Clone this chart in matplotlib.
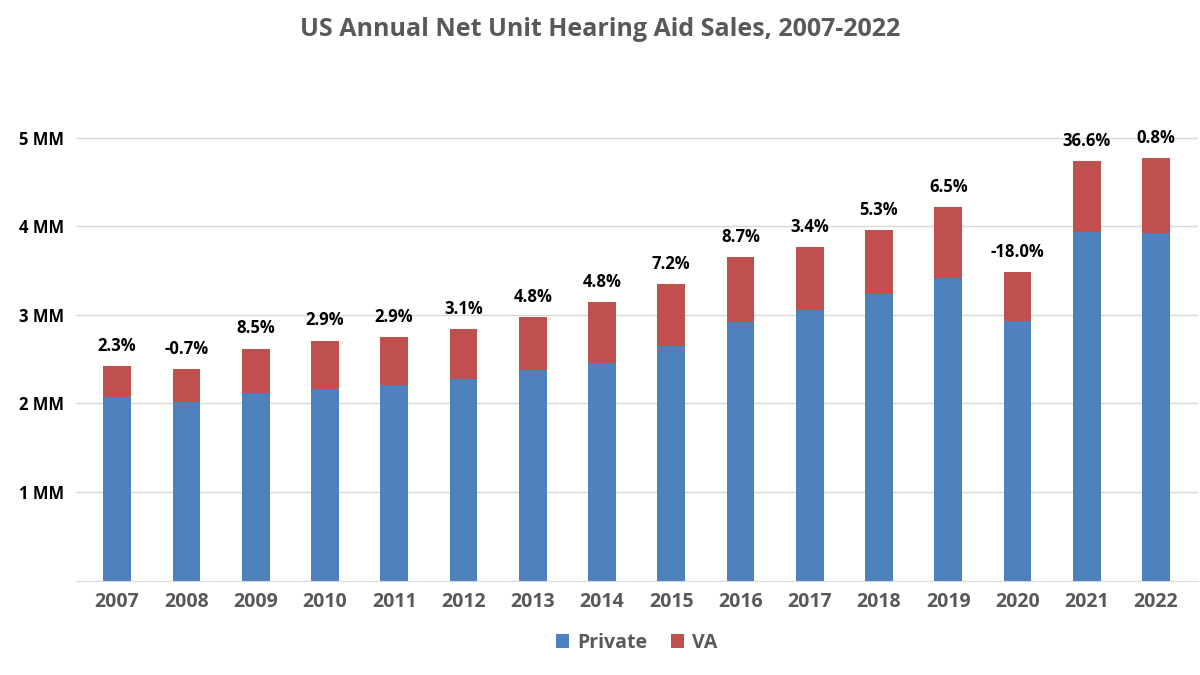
import matplotlib
matplotlib.use("Agg")
import matplotlib.pyplot as plt

years = [str(y) for y in range(2007, 2023)]
private = [2.07, 2.02, 2.12, 2.16, 2.21, 2.28, 2.38, 2.46, 2.65, 2.92, 3.05, 3.23, 3.42, 2.93, 3.94, 3.92]
total = [2.42, 2.39, 2.62, 2.71, 2.75, 2.84, 2.98, 3.14, 3.35, 3.65, 3.77, 3.96, 4.22, 3.48, 4.74, 4.77]
va = [t - p for t, p in zip(total, private)]
growth = ["2.3%", "-0.7%", "8.5%", "2.9%", "2.9%", "3.1%", "4.8%", "4.8%", "7.2%", "8.7%",
          "3.4%", "5.3%", "6.5%", "-18.0%", "36.6%", "0.8%"]
yticks = [1, 2, 3, 4, 5]
ylabels = ["1 MM", "2 MM", "3 MM", "4 MM", "5 MM"]

plt.rcParams['font.family'] = ['Open Sans', 'DejaVu Sans']
fig = plt.figure(figsize=(12, 6.75), dpi=100)
ax = fig.add_axes([0.063, 0.14, 0.935, 0.69])
x = range(len(years))
ax.bar(x, private, 0.4, color="#4F81BD", label="Private", zorder=3)
ax.bar(x, va, 0.4, bottom=private, color="#C0504D", label="VA", zorder=3)
for i, (t, g) in enumerate(zip(total, growth)):
    ax.annotate(g, (i, t), xytext=(0, 8), textcoords="offset points", ha="center", va="bottom",
                fontsize=12, fontweight="bold", color="black")
ax.set_xlim(-0.6, len(years) - 0.4)
ax.set_ylim(0, 5.26)
ax.set_yticks(yticks)
ax.set_yticklabels(ylabels)
ax.set_xticks(list(x))
ax.set_xticklabels(years)
ax.tick_params(axis='y', length=0, labelsize=12, labelcolor="black", pad=8)
ax.tick_params(axis='x', length=0, labelsize=14, labelcolor="#595959", pad=8)
for l in ax.get_xticklabels() + ax.get_yticklabels():
    l.set_fontweight("bold")
ax.grid(axis='y', color="#D9D9D9", linewidth=1, zorder=0)
for s in ["top", "right", "left"]:
    ax.spines[s].set_visible(False)
ax.spines["bottom"].set_color("#D9D9D9")
fig.suptitle("US Annual Net Unit Hearing Aid Sales, 2007-2022", y=0.975, fontsize=18,
             fontweight="bold", color="#595959")
leg = ax.legend(loc="upper center", bbox_to_anchor=(0.5, -0.075), ncol=2, frameon=False,
                prop={'size': 14, 'weight': 'bold'}, handlelength=0.7, handleheight=0.7,
                columnspacing=1.2, handletextpad=0.4)
for t in leg.get_texts():
    t.set_color("#595959")
fig.savefig("out.png")
